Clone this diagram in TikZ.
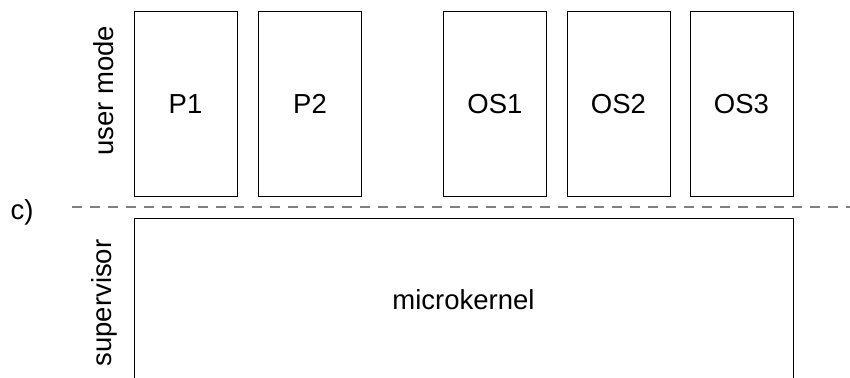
\documentclass[tikz,border=0pt]{standalone}
\usepackage{fontspec}
\setmainfont{Liberation Sans}
\begin{document}
\begin{tikzpicture}[x=1pt,y=-1pt,
  every node/.style={font=\fontsize{27.5}{33}\selectfont},
  proc/.style={draw, line width=1pt, minimum width=103pt, minimum height=184.5pt, inner sep=0pt},
  lbl/.style={rotate=90, inner sep=0pt}]
\useasboundingbox (0,0) rectangle (850,377);
\clip (0,0) rectangle (850,377);
\node[proc] (p1) at (185.5,104) {P1};
\node[proc] (p2) at (310,104) {P2};
\node[proc] (os1) at (495,104) {OS1};
\node[proc] (os2) at (618.5,104) {OS2};
\node[proc] (os3) at (741.5,104) {OS3};
\node[draw, line width=1pt, minimum width=659pt, minimum height=200pt, anchor=north west, inner sep=0pt] (mk) at (134,218) {};
\node (mkt) at (463.5,300) {microkernel};
\node[lbl] (um) at (104,91) {user mode};
\node[lbl] (sv) at (104,303) {supervisor};
\node (c) at (22,212) {c)};
\coordinate (dl) at (72,207);
\coordinate (dr) at (852,207);
\draw[gray, line width=1.3pt, dash pattern=on 10pt off 8pt] (dl) -- (dr);
\end{tikzpicture}
\end{document}
